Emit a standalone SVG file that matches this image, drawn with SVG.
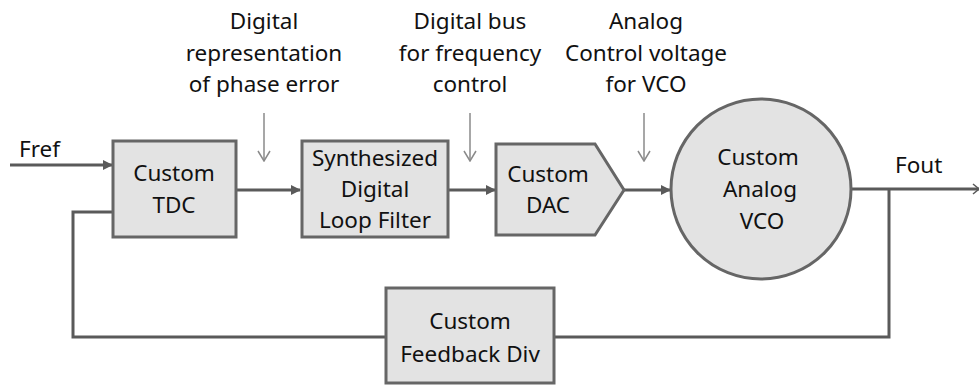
<svg xmlns="http://www.w3.org/2000/svg" width="979" height="385" viewBox="0 0 979 385">
<defs>
<style>
.t{font-family:"Noto Sans","DejaVu Sans",sans-serif;font-size:22.5px;fill:#111;text-anchor:middle}
.tl{font-family:"Noto Sans","DejaVu Sans",sans-serif;font-size:22.5px;fill:#111}
.box{fill:#e3e3e3;stroke:#666;stroke-width:3}
.w{fill:none;stroke:#5a5a5a;stroke-width:3}
.g{fill:none;stroke:#8a8a8a;stroke-width:1.5}
</style>
<marker id="ah" markerWidth="10" markerHeight="10" refX="9" refY="5" orient="auto" markerUnits="userSpaceOnUse">
<path d="M0,0 L10,5 L0,10 Z" fill="#5a5a5a"/>
</marker>
<marker id="ga" markerWidth="14" markerHeight="12" refX="7" refY="11" orient="0" markerUnits="userSpaceOnUse">
<path d="M1,1 L7,11 L13,1" fill="none" stroke="#8a8a8a" stroke-width="1.5"/>
</marker>
</defs>
<rect width="979" height="385" fill="#fff"/>
<g id="connectors">
<path class="w" d="M10,165 H112" marker-end="url(#ah)"/>
<path class="w" d="M236,190 H300" marker-end="url(#ah)"/>
<path class="w" d="M448,190 H495" marker-end="url(#ah)"/>
<path class="w" d="M624,190 H670" marker-end="url(#ah)"/>
<path class="w" d="M852,189 H979"/>
<path d="M973,184 L979,189 L973,194" fill="none" stroke="#5a5a5a" stroke-width="1.5"/>
<path class="w" d="M889,189 V337 H554"/>
<path class="w" d="M386,337 H73 V212 H113"/>
<path class="g" d="M264,113 V161" marker-end="url(#ga)"/>
<path class="g" d="M470,113 V161" marker-end="url(#ga)"/>
<path class="g" d="M644,113 V161" marker-end="url(#ga)"/>
</g>
<g id="labels">
<text class="tl" x="19" y="157">Fref</text>
<text class="tl" x="895" y="173">Fout</text>
<text class="t" x="264" y="29">Digital</text>
<text class="t" x="264" y="61">representation</text>
<text class="t" x="264" y="92">of phase error</text>
<text class="t" x="470" y="29">Digital bus</text>
<text class="t" x="470" y="61">for frequency</text>
<text class="t" x="470" y="92">control</text>
<text class="t" x="646" y="29">Analog</text>
<text class="t" x="646" y="61">Control voltage</text>
<text class="t" x="646" y="92">for VCO</text>
</g>
<g id="tdc">
<rect class="box" x="113" y="141" width="123" height="96"/>
<text class="t" x="174" y="181">Custom</text>
<text class="t" x="174" y="213">TDC</text>
</g>
<g id="loopfilter">
<rect class="box" x="302" y="141" width="146" height="96"/>
<text class="t" x="375" y="166">Synthesized</text>
<text class="t" x="375" y="197">Digital</text>
<text class="t" x="375" y="228">Loop Filter</text>
</g>
<g id="dac">
<path class="box" d="M496,144 H595 L624,190 L595,235 H496 Z"/>
<text class="t" x="548" y="182">Custom</text>
<text class="t" x="548" y="213">DAC</text>
</g>
<g id="vco">
<circle class="box" cx="761" cy="189" r="90"/>
<text class="t" x="758" y="165">Custom</text>
<text class="t" x="760" y="197">Analog</text>
<text class="t" x="762" y="229">VCO</text>
</g>
<g id="feedbackdiv">
<rect class="box" x="386" y="288" width="168" height="95"/>
<text class="t" x="470" y="329">Custom</text>
<text class="t" x="470" y="362">Feedback Div</text>
</g>
</svg>
